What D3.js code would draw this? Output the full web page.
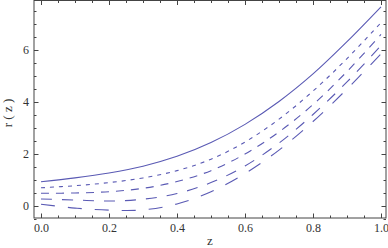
<!DOCTYPE html>
<html>
<head>
<meta charset="utf-8">
<style>
  body { margin: 0; background: white; }
  svg text { font-family: "Liberation Serif", "DejaVu Serif", serif; fill: #333; }
</style>
</head>
<body>
<script src="https://cdn.jsdelivr.net/npm/d3@7"></script>
<svg width="388" height="248"></svg>
<script>
const zValues = [0, 0.1, 0.2, 0.3, 0.4, 0.5, 0.6, 0.7, 0.8, 0.9, 1.0]
const r1 = [0.93, 1.08, 1.27, 1.53, 1.91, 2.44, 3.14, 4.02, 5.08, 6.32, 7.66]
const r2 = [0.70, 0.78, 0.90, 1.08, 1.36, 1.80, 2.46, 3.34, 4.42, 5.67, 7.05]
const r3 = [0.49, 0.50, 0.55, 0.68, 0.94, 1.36, 2.00, 2.85, 3.90, 5.17, 6.60]
const r4 = [0.27, 0.23, 0.19, 0.26, 0.48, 0.90, 1.54, 2.42, 3.52, 4.77, 6.17]
const r5 = [0.07, -0.08, -0.16, -0.15, 0.08, 0.55, 1.25, 2.15, 3.25, 4.50, 5.85]
const xTicks = [0, 0.2, 0.4, 0.6, 0.8, 1.0]
const yTicks = [0, 2, 4, 6]

const series = [r1, r2, r3, r4, r5]
const dashes = ["none", "4,5", "8,7", "11,10", "14,13"]
const lineColor = "#5a5ab4"

const svg = d3.select("svg")
const fLeft = 34, fRight = 386, fTop = 0.5, fBottom = 218

const xScale = d3.scaleLinear().domain([0, 1]).range([41, 381])
const yScale = d3.scaleLinear().domain([0, 6]).range([206, 50])

const minorX = d3.range(0, 1.0001, 0.05)
const minorY = d3.range(-0.5, 7.9, 0.5)

function tickAxis(axisFn, scale, values, size, labels) {
    const a = axisFn(scale).tickValues(values).tickSizeInner(size).tickSizeOuter(0).tickPadding(5)
    if (labels) a.tickFormat(labels)
    else a.tickFormat("")
    return a
}

// minor ticks, all four sides
svg.append("g").attr("transform", `translate(0,${fBottom})`).call(tickAxis(d3.axisBottom, xScale, minorX, -2.5))
svg.append("g").attr("transform", `translate(0,${fTop})`).call(tickAxis(d3.axisTop, xScale, minorX, -2.5))
svg.append("g").attr("transform", `translate(${fLeft},0)`).call(tickAxis(d3.axisLeft, yScale, minorY, -2.5))
svg.append("g").attr("transform", `translate(${fRight},0)`).call(tickAxis(d3.axisRight, yScale, minorY, -2.5))

// major ticks with labels on bottom and left
svg.append("g").attr("class", "xAxisG").attr("transform", `translate(0,${fBottom})`)
    .call(tickAxis(d3.axisBottom, xScale, xTicks, -4.5, d3.format(".1f")))
svg.append("g").attr("transform", `translate(0,${fTop})`).call(tickAxis(d3.axisTop, xScale, xTicks, -4.5))
svg.append("g").attr("class", "yAxisG").attr("transform", `translate(${fLeft},0)`)
    .call(tickAxis(d3.axisLeft, yScale, yTicks, -4.5, d3.format("d")))
svg.append("g").attr("transform", `translate(${fRight},0)`).call(tickAxis(d3.axisRight, yScale, yTicks, -4.5))

svg.selectAll(".domain").remove()
svg.selectAll(".tick line").attr("stroke", "#444")
svg.selectAll(".tick text").style("font-size", "12px").attr("fill", "#333")
svg.select("g.xAxisG").selectAll("text").attr("dy", "0.95em").attr("y", 3)
svg.select("g.yAxisG").selectAll("text").attr("x", -5)

// frame
svg.append("rect")
    .attr("x", fLeft).attr("y", fTop)
    .attr("width", fRight - fLeft).attr("height", fBottom - fTop)
    .attr("fill", "none").attr("stroke", "#444").attr("stroke-width", 1)

// curves
const clip = svg.append("clipPath").attr("id", "plotclip")
clip.append("rect").attr("x", fLeft).attr("y", fTop).attr("width", fRight - fLeft).attr("height", fBottom - fTop)

const line = d3.line()
    .x((d, i) => xScale(zValues[i]))
    .y(d => yScale(d))
    .curve(d3.curveCatmullRom.alpha(0.5))

svg.append("g").attr("clip-path", "url(#plotclip)")
    .selectAll("path.curve")
    .data(series)
    .enter()
    .append("path")
    .attr("class", "curve")
    .attr("d", d => line(d))
    .attr("fill", "none")
    .attr("stroke", lineColor)
    .attr("stroke-width", 1.1)
    .attr("stroke-dasharray", (d, i) => dashes[i])

// axis titles
svg.append("text")
    .attr("x", 210).attr("y", 245)
    .attr("text-anchor", "middle")
    .style("font-size", "13px")
    .text("z")
svg.append("text")
    .attr("transform", "translate(12,113) rotate(-90)")
    .attr("text-anchor", "middle")
    .style("font-size", "13px")
    .text("r ( z )")
</script>
</body>
</html>
